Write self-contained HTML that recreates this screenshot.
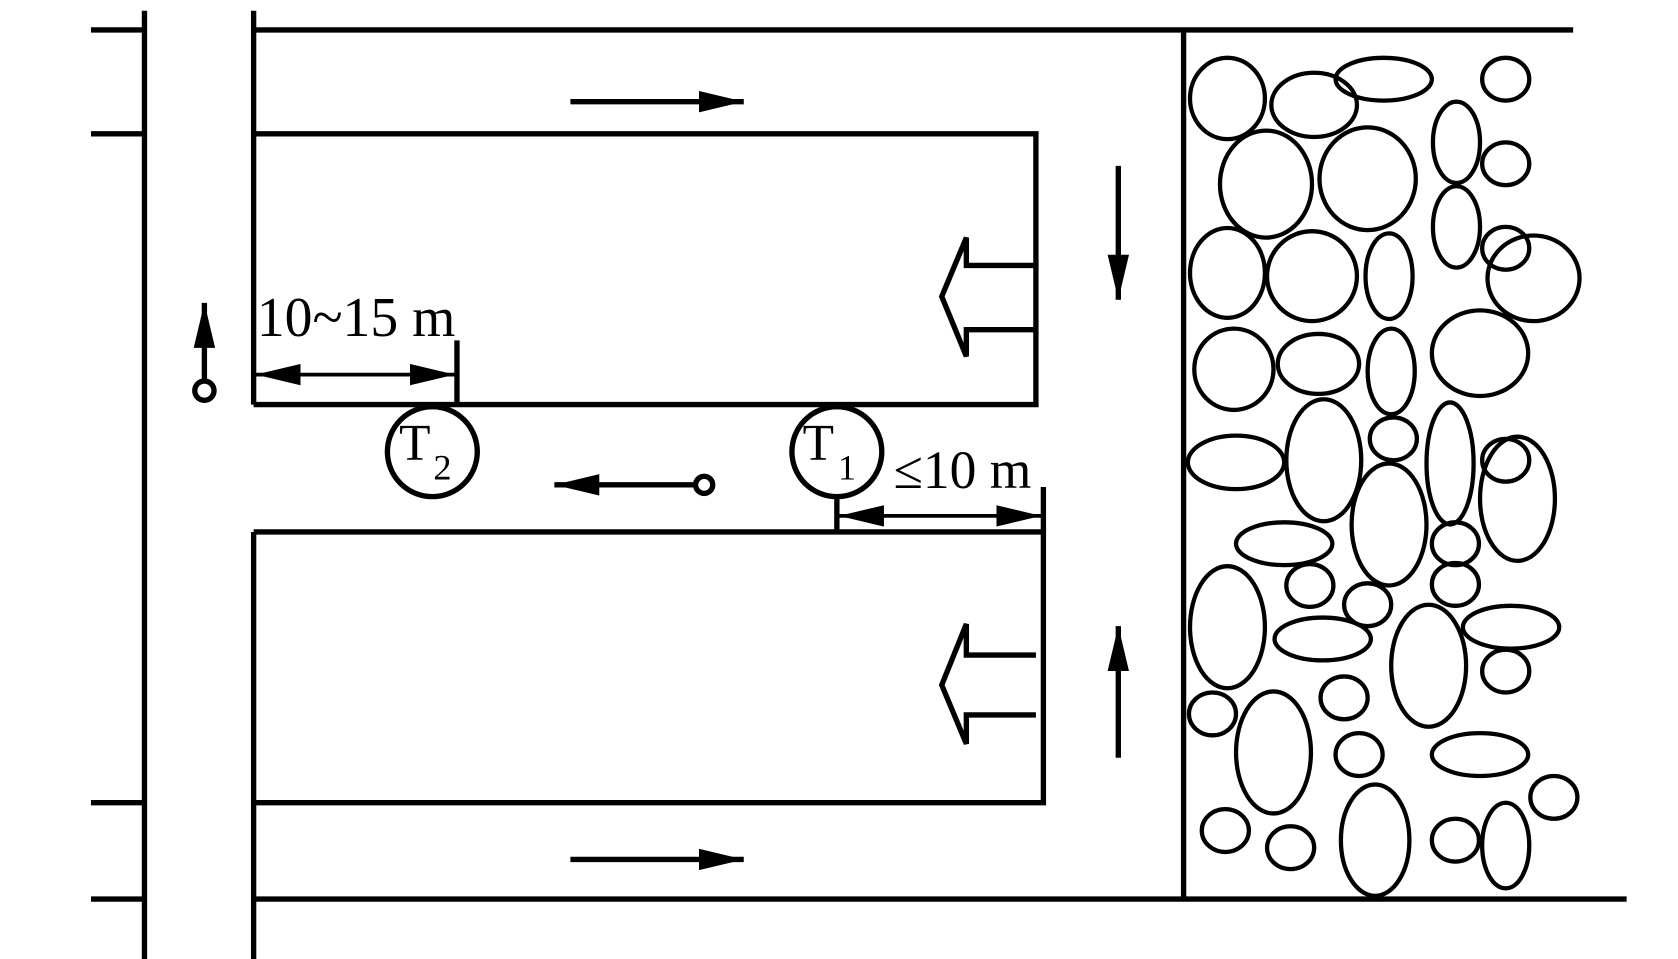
<!DOCTYPE html>
<html><head><meta charset="utf-8"><style>
html,body{margin:0;padding:0;background:#fff;}
svg{display:block;}
text{font-family:"Liberation Serif",serif;fill:#000;}
</style></head><body>
<svg width="1678" height="959" viewBox="0 0 1568 896" preserveAspectRatio="none" xmlns="http://www.w3.org/2000/svg">
<defs>
<marker id="ah2" viewBox="0 0 42 20" markerWidth="42" markerHeight="20" refX="42" refY="10" orient="auto" markerUnits="userSpaceOnUse">
<path d="M0,0 L42,10 L0,20 Z" fill="#000"/></marker>
<marker id="ah3" viewBox="0 0 42 20" markerWidth="42" markerHeight="20" refX="42" refY="10" orient="auto-start-reverse" markerUnits="userSpaceOnUse">
<path d="M0,0 L42,10 L0,20 Z" fill="#000"/></marker>
</defs>
<g stroke="#000" stroke-width="5" fill="none">
<line x1="135" y1="10" x2="135" y2="896"/>
<line x1="237" y1="10" x2="237" y2="378"/>
<line x1="237" y1="497" x2="237" y2="896"/>
<line x1="85" y1="28" x2="135" y2="28"/>
<line x1="85" y1="125" x2="135" y2="125"/>
<line x1="85" y1="750" x2="135" y2="750"/>
<line x1="85" y1="840" x2="135" y2="840"/>
<line x1="237" y1="28" x2="1470" y2="28"/>
<line x1="237" y1="840" x2="1520" y2="840"/>
<polyline points="237,125 968,125 968,378 237,378"/>
<polyline points="237,497 975,497 975,750 237,750"/>
<line x1="1106" y1="28" x2="1106" y2="840"/>
<polyline points="968,248 903,248 903,222 880,277 903,333 903,308 968,308"/>
<polyline points="968,612 903,612 903,583 880,640 903,695 903,668 968,668"/>
<line x1="533" y1="95" x2="695" y2="95" marker-end="url(#ah2)"/>
<line x1="533" y1="803" x2="695" y2="803" marker-end="url(#ah2)"/>
<line x1="1045" y1="155" x2="1045" y2="280" marker-end="url(#ah2)"/>
<line x1="1045" y1="708" x2="1045" y2="585" marker-end="url(#ah2)"/>
<line x1="191" y1="356" x2="191" y2="283" marker-end="url(#ah2)"/>
<circle cx="191" cy="365" r="9"/>
<line x1="650" y1="453" x2="518" y2="453" marker-end="url(#ah2)"/>
<circle cx="658" cy="453" r="8"/>
<circle cx="404" cy="422" r="42"/>
<circle cx="782" cy="422" r="42"/>
<line x1="782" y1="464" x2="782" y2="497"/>
<line x1="427" y1="318" x2="427" y2="378"/>
<line x1="975" y1="455" x2="975" y2="497"/>
</g>
<g stroke="#000" stroke-width="3.5" fill="none">
<line x1="239" y1="350" x2="425" y2="350" marker-start="url(#ah3)" marker-end="url(#ah3)"/>
<line x1="784" y1="482" x2="973" y2="482" marker-start="url(#ah3)" marker-end="url(#ah3)"/>
</g>
<g stroke="#000" stroke-width="4" fill="none">
<ellipse cx="1147" cy="92" rx="35" ry="38"/><ellipse cx="1228" cy="98" rx="40" ry="30"/><ellipse cx="1293" cy="74" rx="45" ry="20"/><ellipse cx="1407" cy="74" rx="22" ry="20"/>
<ellipse cx="1183" cy="172" rx="43" ry="50"/><ellipse cx="1278" cy="167" rx="45" ry="48"/><ellipse cx="1361" cy="133" rx="22" ry="38"/><ellipse cx="1407" cy="153" rx="22" ry="20"/>
<ellipse cx="1147" cy="255" rx="35" ry="42"/><ellipse cx="1226" cy="258" rx="42" ry="42"/><ellipse cx="1298" cy="258" rx="22" ry="40"/><ellipse cx="1361" cy="212" rx="22" ry="38"/><ellipse cx="1407" cy="232" rx="22" ry="20"/><ellipse cx="1433" cy="260" rx="43" ry="40"/>
<ellipse cx="1153" cy="345" rx="37" ry="38"/><ellipse cx="1232" cy="340" rx="38" ry="28"/><ellipse cx="1300" cy="347" rx="22" ry="40"/><ellipse cx="1383" cy="330" rx="45" ry="40"/>
<ellipse cx="1155" cy="432" rx="45" ry="25"/><ellipse cx="1237" cy="430" rx="35" ry="57"/><ellipse cx="1302" cy="410" rx="22" ry="20"/><ellipse cx="1355" cy="433" rx="22" ry="57"/><ellipse cx="1407" cy="430" rx="22" ry="20"/><ellipse cx="1418" cy="466" rx="35" ry="58"/>
<ellipse cx="1200" cy="508" rx="45" ry="20"/><ellipse cx="1298" cy="490" rx="35" ry="57"/><ellipse cx="1360" cy="508" rx="22" ry="20"/>
<ellipse cx="1147" cy="586" rx="35" ry="57"/><ellipse cx="1224" cy="547" rx="22" ry="20"/><ellipse cx="1278" cy="565" rx="22" ry="20"/><ellipse cx="1360" cy="546" rx="22" ry="20"/>
<ellipse cx="1236" cy="597" rx="45" ry="20"/><ellipse cx="1335" cy="622" rx="35" ry="57"/><ellipse cx="1412" cy="586" rx="45" ry="20"/><ellipse cx="1407" cy="627" rx="22" ry="20"/>
<ellipse cx="1133" cy="667" rx="22" ry="20"/><ellipse cx="1256" cy="652" rx="22" ry="20"/><ellipse cx="1190" cy="703" rx="35" ry="57"/><ellipse cx="1270" cy="705" rx="22" ry="20"/><ellipse cx="1383" cy="705" rx="45" ry="20"/>
<ellipse cx="1145" cy="776" rx="22" ry="20"/><ellipse cx="1206" cy="792" rx="22" ry="20"/><ellipse cx="1285" cy="785" rx="32" ry="52"/><ellipse cx="1360" cy="785" rx="22" ry="20"/><ellipse cx="1407" cy="790" rx="22" ry="40"/><ellipse cx="1452" cy="745" rx="22" ry="20"/>
</g>
<text x="240" y="314" font-size="52">10~15 m</text>
<text x="835" y="456" font-size="50">≤10 m</text>
<text x="373" y="430" font-size="48">T</text><text x="405" y="448" font-size="34">2</text>
<text x="750" y="430" font-size="48">T</text><text x="783" y="448" font-size="34">1</text>
</svg>
</body></html>
